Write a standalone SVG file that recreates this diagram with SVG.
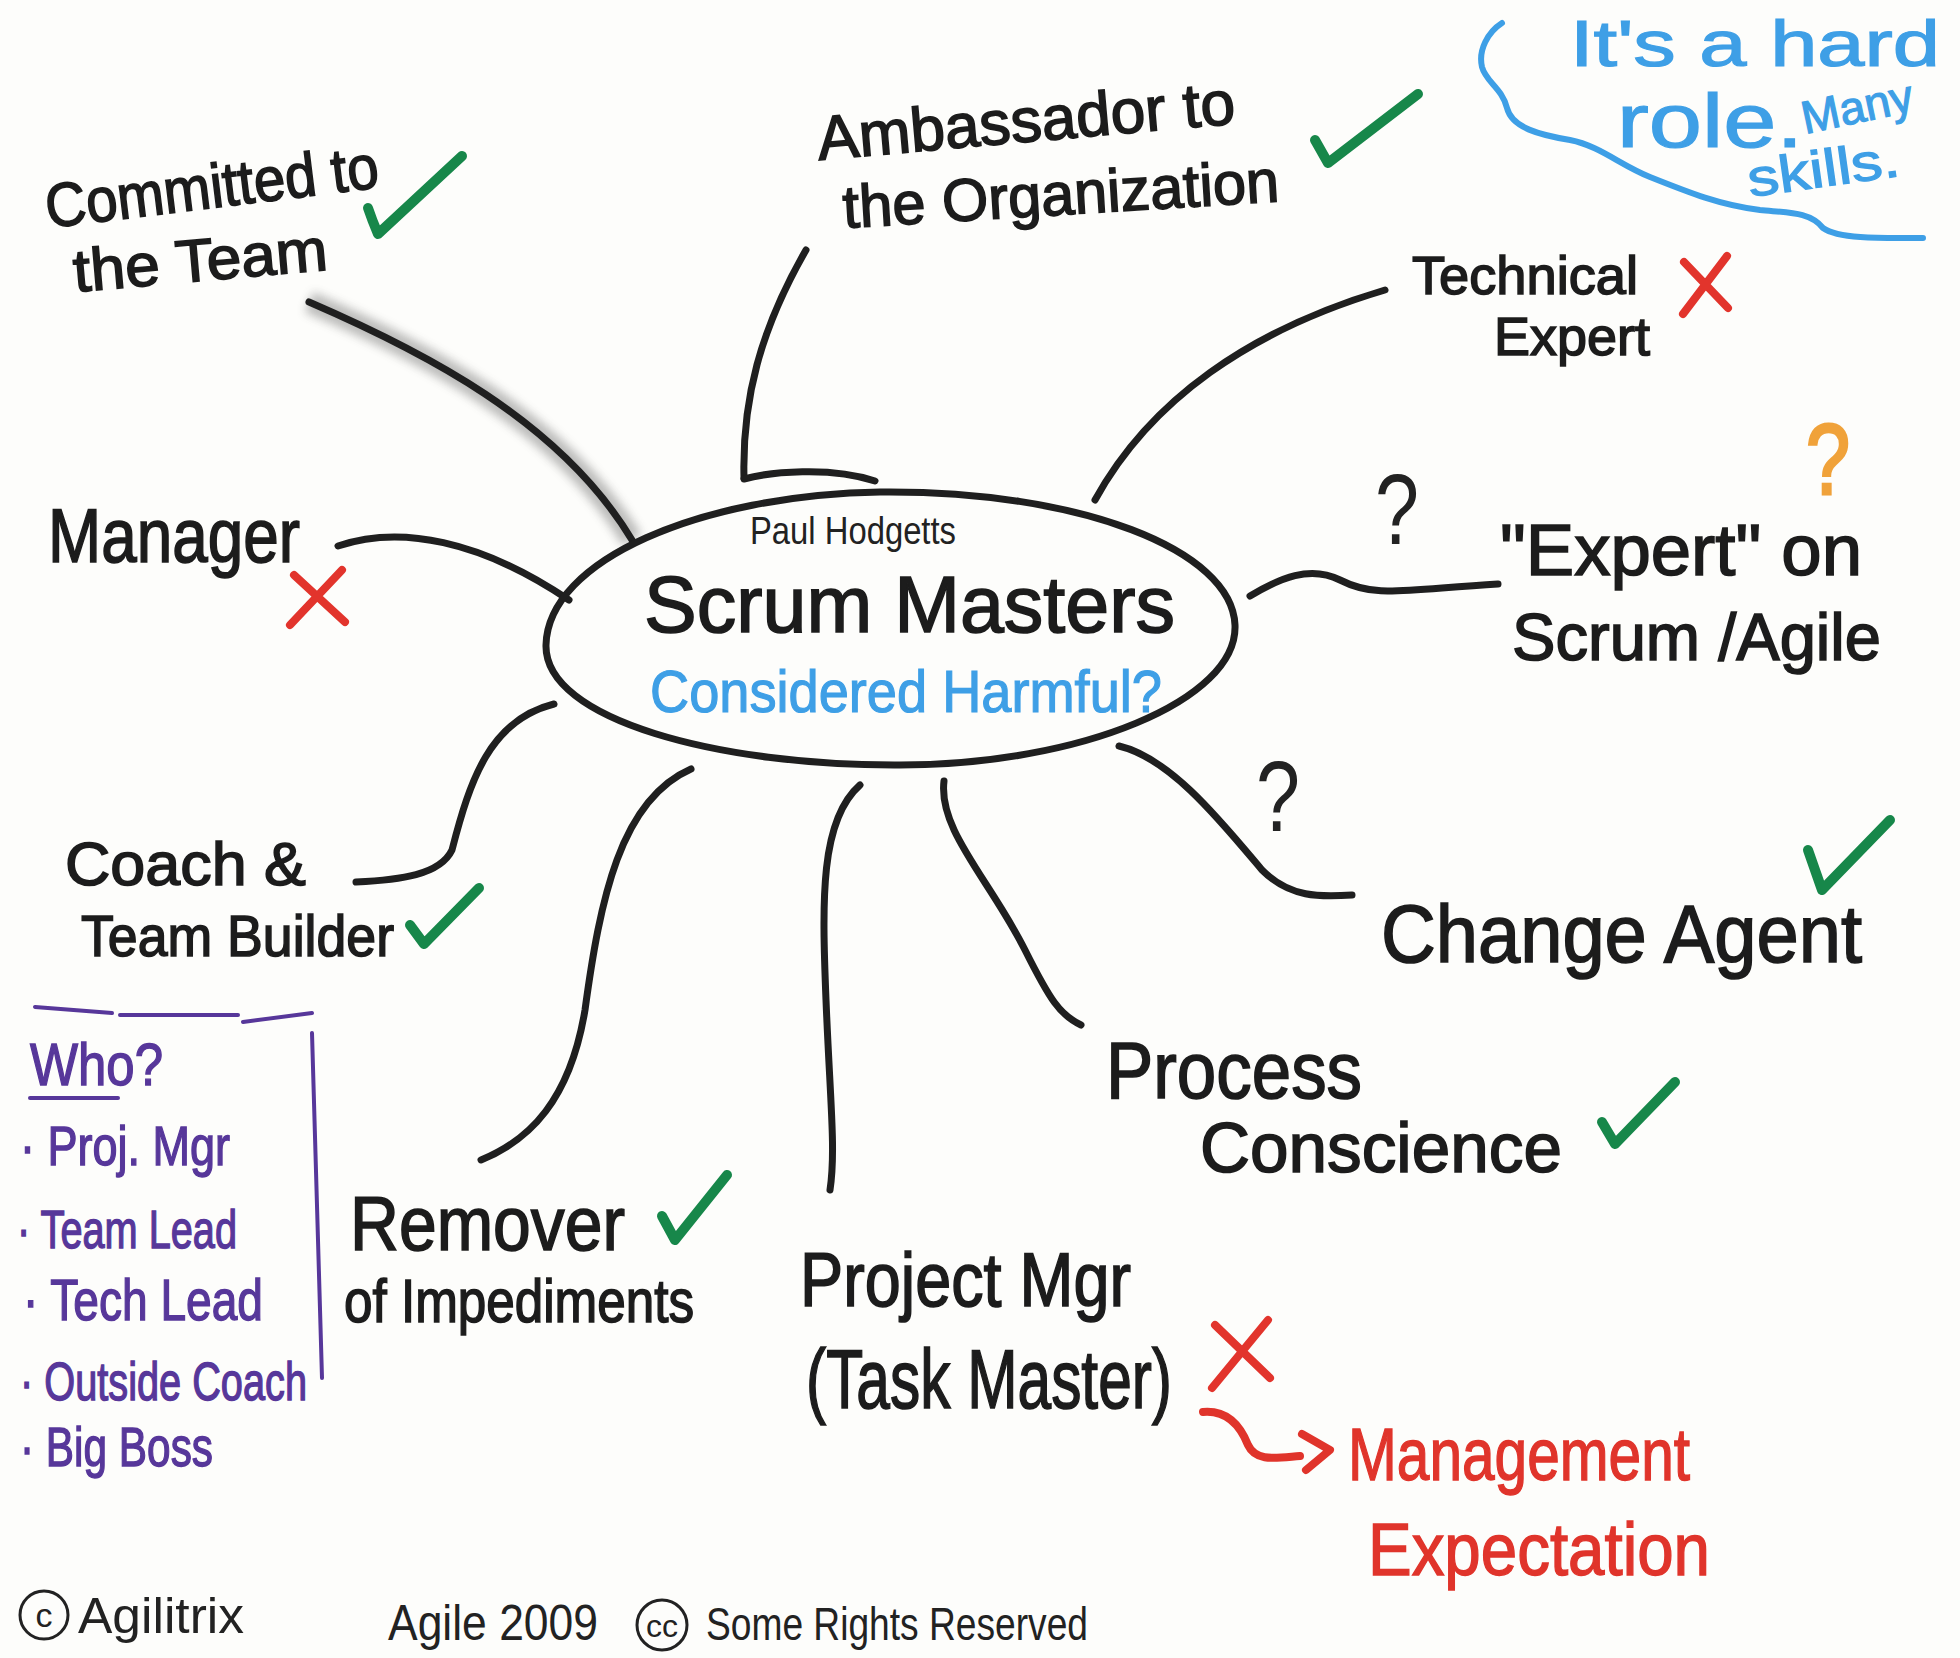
<svg xmlns="http://www.w3.org/2000/svg" width="1960" height="1658" viewBox="0 0 1960 1658">
<defs>
<filter id="smudge" x="-30%" y="-30%" width="160%" height="160%"><feGaussianBlur stdDeviation="5"/></filter>
</defs>
<style>
text{font-family:"Liberation Sans","DejaVu Sans",sans-serif;}
.ink{fill:#1c1c1c;stroke:#1c1c1c;stroke-width:1.6;}
.thin{fill:#222;}
.blue{fill:#3e9fe6;stroke:#3e9fe6;stroke-width:1.2;}
.purple{fill:#57379a;stroke:#57379a;stroke-width:1.4;}
.red{fill:#e0342b;stroke:#e0342b;stroke-width:1.4;}
.line{fill:none;stroke:#1f1f1f;stroke-width:7;stroke-linecap:round;stroke-linejoin:round;}
.chk{fill:none;stroke:#17874a;stroke-width:10;stroke-linecap:round;stroke-linejoin:round;}
.x{fill:none;stroke:#e2342c;stroke-width:8;stroke-linecap:round;}
.pline{fill:none;stroke:#57379a;stroke-width:4;stroke-linecap:round;}
</style>
<rect width="1960" height="1658" fill="#fdfdfb"/>

<g id="connectors">
  <path d="M 309 302 C 420 350, 560 420, 632 540" fill="none" stroke="#444" stroke-width="22" opacity="0.35" filter="url(#smudge)"/>
  <path class="line" d="M 309 302 C 420 350, 560 420, 632 540" stroke-width="8"/>
  <path class="line" d="M 806 250 C 760 330, 742 400, 744 478"/>
  <path class="line" d="M 1385 290 C 1250 330, 1150 400, 1095 500"/>
  <path class="line" d="M 1250 596 C 1280 578, 1310 565, 1340 580 C 1375 598, 1400 590, 1498 584"/>
  <path class="line" d="M 1119 746 C 1170 758, 1220 820, 1262 870 C 1290 898, 1320 897, 1352 895"/>
  <path class="line" d="M 944 781 C 938 830, 990 880, 1025 950 C 1050 1000, 1060 1015, 1081 1025"/>
  <path class="line" d="M 860 785 C 820 820, 822 900, 826 1000 C 830 1100, 836 1150, 830 1190"/>
  <path class="line" d="M 691 769 C 620 800, 600 900, 585 1010 C 570 1100, 530 1140, 481 1160"/>
  <path class="line" d="M 554 704 C 490 720, 470 780, 452 850 C 440 875, 400 880, 356 882"/>
  <path class="line" d="M 338 546 C 400 525, 480 540, 569 600"/>
  <path d="M 1203 1412 C 1226 1410, 1240 1425, 1248 1445 C 1256 1462, 1275 1458, 1300 1456" fill="none" stroke="#e0342b" stroke-width="8" stroke-linecap="round"/>
  <path d="M 1302 1434 L 1330 1450 L 1306 1470" fill="none" stroke="#e0342b" stroke-width="8" stroke-linecap="round" stroke-linejoin="round"/>
</g>

<g id="center">
  <path class="line" d="M 546 645 C 548 560, 700 495, 880 492 C 1080 490, 1232 550, 1235 625 C 1238 700, 1080 765, 900 765 C 720 766, 544 720, 546 645 Z" stroke-width="5"/>
  <path class="line" d="M 744 479 C 770 472, 830 466, 875 481" stroke-width="5"/>
  <text class="thin" x="750" y="544" font-size="38" textLength="206" lengthAdjust="spacingAndGlyphs">Paul Hodgetts</text>
  <text class="ink" x="644" y="632" font-size="80" textLength="531" lengthAdjust="spacingAndGlyphs">Scrum Masters</text>
  <text class="blue" x="650" y="712" font-size="60" textLength="512" lengthAdjust="spacingAndGlyphs">Considered Harmful?</text>
</g>

<g id="committed">
  <text class="ink" x="48" y="228" font-size="62" textLength="335" lengthAdjust="spacingAndGlyphs" transform="rotate(-7 48 228)">Committed to</text>
  <text class="ink" x="75" y="292" font-size="60" textLength="255" lengthAdjust="spacingAndGlyphs" transform="rotate(-5 75 292)">the Team</text>
  <path class="chk" d="M 368 208 Q 372 220 378 234 L 462 156"/>
</g>

<g id="ambassador">
  <text class="ink" x="819" y="160" font-size="62" textLength="419" lengthAdjust="spacingAndGlyphs" transform="rotate(-5 819 160)">Ambassador to</text>
  <text class="ink" x="844" y="228" font-size="60" textLength="437" lengthAdjust="spacingAndGlyphs" transform="rotate(-3.5 844 228)">the Organization</text>
  <path class="chk" d="M 1315 140 L 1328 163 L 1418 94"/>
</g>

<g id="technical">
  <text class="ink" x="1412" y="294" font-size="54" textLength="226" lengthAdjust="spacingAndGlyphs">Technical</text>
  <text class="ink" x="1494" y="355" font-size="54" textLength="156" lengthAdjust="spacingAndGlyphs">Expert</text>
  <path class="x" d="M 1684 262 L 1728 308 M 1727 256 L 1683 314"/>
</g>

<g id="expert-scrum">
  <text class="thin" x="1375" y="544" font-size="100" textLength="44" lengthAdjust="spacingAndGlyphs">?</text>
  <text x="1806" y="494" font-size="100" textLength="44" lengthAdjust="spacingAndGlyphs" fill="#f0a23a" stroke="#f0a23a" stroke-width="3">?</text>
  <text class="ink" x="1500" y="575" font-size="72" textLength="362" lengthAdjust="spacingAndGlyphs">"Expert" on</text>
  <text class="ink" x="1512" y="660" font-size="66" textLength="369" lengthAdjust="spacingAndGlyphs">Scrum /Agile</text>
</g>

<g id="manager">
  <text class="ink" x="48" y="562" font-size="76" textLength="252" lengthAdjust="spacingAndGlyphs">Manager</text>
  <path class="x" d="M 294 575 L 345 622 M 342 570 L 290 625"/>
</g>

<g id="change-agent">
  <text class="thin" x="1256" y="831" font-size="100" textLength="44" lengthAdjust="spacingAndGlyphs">?</text>
  <path class="chk" d="M 1808 850 L 1822 890 L 1890 820"/>
  <text class="ink" x="1381" y="962" font-size="82" textLength="481" lengthAdjust="spacingAndGlyphs">Change Agent</text>
</g>

<g id="coach">
  <text class="ink" x="65" y="885" font-size="62" textLength="241" lengthAdjust="spacingAndGlyphs">Coach &amp;</text>
  <text class="ink" x="81" y="956" font-size="58" textLength="313" lengthAdjust="spacingAndGlyphs">Team Builder</text>
  <path class="chk" d="M 410 925 L 424 944 L 479 888"/>
</g>

<g id="process">
  <text class="ink" x="1106" y="1098" font-size="80" textLength="256" lengthAdjust="spacingAndGlyphs">Process</text>
  <text class="ink" x="1200" y="1172" font-size="70" textLength="362" lengthAdjust="spacingAndGlyphs">Conscience</text>
  <path class="chk" d="M 1602 1122 L 1615 1144 L 1675 1082"/>
</g>

<g id="remover">
  <text class="ink" x="350" y="1250" font-size="76" textLength="275" lengthAdjust="spacingAndGlyphs">Remover</text>
  <text class="ink" x="344" y="1322" font-size="62" textLength="350" lengthAdjust="spacingAndGlyphs">of Impediments</text>
  <path class="chk" d="M 662 1216 L 675 1240 L 727 1175"/>
</g>

<g id="project-mgr">
  <text class="ink" x="800" y="1306" font-size="76" textLength="331" lengthAdjust="spacingAndGlyphs">Project Mgr</text>
  <text class="ink" x="806" y="1408" font-size="84" textLength="366" lengthAdjust="spacingAndGlyphs">(Task Master)</text>
  <path class="x" d="M 1215 1325 L 1270 1378 M 1268 1320 L 1212 1388"/>
</g>

<g id="management-expectation">
  <text class="red" x="1348" y="1480" font-size="74" textLength="342" lengthAdjust="spacingAndGlyphs">Management</text>
  <text class="red" x="1368" y="1575" font-size="74" textLength="342" lengthAdjust="spacingAndGlyphs">Expectation</text>
</g>

<g id="who-box">
  <path class="pline" d="M 35 1007 L 112 1013 M 120 1015 L 238 1015 M 243 1022 L 312 1013 M 312 1033 L 322 1378"/>
  <text class="purple" x="30" y="1085" font-size="60" textLength="133" lengthAdjust="spacingAndGlyphs">Who?</text>
  <path class="pline" d="M 30 1098 L 118 1098"/>
  <text class="purple" x="20" y="1165" font-size="56" textLength="210" lengthAdjust="spacingAndGlyphs">· Proj. Mgr</text>
  <text class="purple" x="17" y="1248" font-size="54" textLength="220" lengthAdjust="spacingAndGlyphs">· Team Lead</text>
  <text class="purple" x="23" y="1320" font-size="58" textLength="240" lengthAdjust="spacingAndGlyphs">· Tech Lead</text>
  <text class="purple" x="20" y="1400" font-size="54" textLength="287" lengthAdjust="spacingAndGlyphs">· Outside Coach</text>
  <text class="purple" x="20" y="1466" font-size="56" textLength="193" lengthAdjust="spacingAndGlyphs">· Big Boss</text>
</g>

<g id="hard-role">
  <path d="M 1502 23 C 1488 32, 1478 50, 1482 67 C 1486 82, 1502 88, 1507 108 C 1512 128, 1540 135, 1570 140 C 1600 146, 1620 165, 1650 177 C 1690 193, 1720 205, 1760 210 C 1790 213, 1810 212, 1823 228 C 1840 240, 1890 238, 1923 238" fill="none" stroke="#3e9fe6" stroke-width="6" stroke-linecap="round"/>
  <text class="blue" x="1570" y="66" font-size="64" textLength="370" lengthAdjust="spacingAndGlyphs">It's a hard</text>
  <text class="blue" x="1617" y="147" font-size="76" textLength="186" lengthAdjust="spacingAndGlyphs">role.</text>
  <text class="blue" x="1805" y="134" font-size="46" textLength="113" lengthAdjust="spacingAndGlyphs" transform="rotate(-12 1805 134)">Many</text>
  <text class="blue" x="1750" y="197" font-size="52" textLength="153" lengthAdjust="spacingAndGlyphs" transform="rotate(-8 1750 197)">skills.</text>
</g>

<g id="footer">
  <circle cx="44" cy="1615" r="24" fill="none" stroke="#222" stroke-width="3"/>
  <text class="thin" x="44" y="1627" font-size="34" text-anchor="middle">c</text>
  <text class="thin" x="78" y="1633" font-size="50" textLength="166" lengthAdjust="spacingAndGlyphs">Agilitrix</text>
  <text class="thin" x="388" y="1640" font-size="50" textLength="210" lengthAdjust="spacingAndGlyphs">Agile 2009</text>
  <circle cx="662" cy="1625" r="25" fill="none" stroke="#222" stroke-width="3"/>
  <text class="thin" x="662" y="1637" font-size="32" text-anchor="middle">cc</text>
  <text class="thin" x="706" y="1640" font-size="46" textLength="382" lengthAdjust="spacingAndGlyphs">Some Rights Reserved</text>
</g>
</svg>
